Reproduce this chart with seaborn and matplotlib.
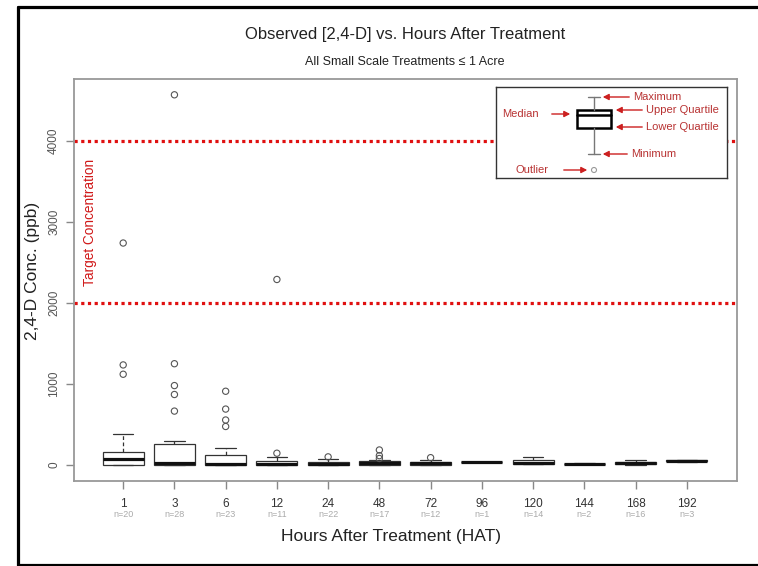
import matplotlib
matplotlib.use("Agg")
import matplotlib.pyplot as plt
import matplotlib.transforms as mtransforms
from matplotlib.lines import Line2D
from matplotlib.patches import Rectangle, Circle
import numpy as np
import pandas as pd
import seaborn as sns

# Hours after treatment (categories) and sample sizes
hours = ["1", "3", "6", "12", "24", "48", "72", "96", "120", "144", "168", "192"]
n_obs = [20, 28, 23, 11, 22, 17, 12, 1, 14, 2, 16, 3]

# Five-number summaries (ppb)
box_min = [0, 0, 0, 0, 0, 0, 0, 35, 10, 10, 5, 35]
box_q1 = [5, 5, 5, 3, 5, 5, 5, 35, 12, 12, 10, 45]
box_med = [70, 30, 15, 15, 15, 20, 20, 35, 30, 15, 25, 55]
box_q3 = [165, 255, 120, 55, 40, 50, 40, 35, 58, 18, 35, 60]
box_max = [380, 290, 215, 100, 70, 60, 60, 35, 100, 20, 58, 65]

# Outliers
out_hat = ["1", "1", "1", "3", "3", "3", "3", "3", "6", "6", "6", "6",
           "12", "12", "24", "48", "48", "48", "72"]
out_val = [2740, 1235, 1120, 4570, 1250, 980, 870, 665, 910, 690, 555, 475,
           2290, 145, 100, 185, 115, 80, 90]

target_levels = [2000, 4000]
y_ticks = [0, 1000, 2000, 3000, 4000]

sns.set_style("white")
plt.rcParams["font.family"] = ["Liberation Sans", "DejaVu Sans"]

# long table: five points per group give exactly the quartiles
rows = []
for i, h in enumerate(hours):
    for v in (box_min[i], box_q1[i], box_med[i], box_q3[i], box_max[i]):
        rows.append({"hat": h, "conc": v})
box_df = pd.DataFrame(rows)
out_df = pd.DataFrame({"hat": out_hat, "conc": out_val})

W, H = 758, 566
fig = plt.figure(figsize=(W / 100, H / 100), dpi=100)
ax = fig.add_axes([74 / W, 1 - 481 / H, (737 - 74) / W, (481 - 79) / H])

sns.boxplot(
    data=box_df, x="hat", y="conc", order=hours, ax=ax,
    whis=(0, 100), width=0.8, showfliers=False,
    color="white", saturation=1, linecolor="#333333", linewidth=0.9,
    medianprops={"color": "#111111", "linewidth": 2.3},
    whiskerprops={"linestyle": (0, (3, 2)), "color": "#333333"},
    capprops={"color": "#333333"},
)
sns.stripplot(
    data=out_df, x="hat", y="conc", order=hours, ax=ax,
    jitter=False, marker="o", size=4.5, color="white",
    edgecolor="#555555", linewidth=0.8,
)
for coll in ax.collections:
    coll.set_facecolor("none")

for lvl in target_levels:
    ax.axhline(lvl, color="#e01010", lw=2.3, ls=(0, (1, 1.1)), zorder=1)

trans = mtransforms.blended_transform_factory(ax.transAxes, ax.transData)
ax.text(0.024, 3000, "Target Concentration", transform=trans, rotation=90,
        ha="center", va="center", color="#d01818", fontsize=9.8)

ax.set_xlim(-0.96, 11.98)
ax.set_ylim(-198, 4765)
ax.set_yticks(y_ticks)
ax.set_yticklabels([str(t) for t in y_ticks], rotation=90, va="center")
ax.set_xticks(range(len(hours)))
ax.set_xticklabels(hours)
ax.tick_params(axis="y", length=6, width=1, color="#888888", labelsize=8.5,
               labelcolor="#555555", pad=4, left=True)
ax.tick_params(axis="x", length=6, width=1, color="#888888", labelsize=8.5,
               labelcolor="#333333", pad=6, bottom=True)
for sp in ax.spines.values():
    sp.set_color("#999999")
    sp.set_linewidth(1.3)

xtrans = mtransforms.blended_transform_factory(ax.transData, ax.transAxes)
for i, n in enumerate(n_obs):
    ax.text(i, -0.083, f"n={n}", transform=xtrans, ha="center", va="center",
            fontsize=6.5, color="#aaaaaa")

ax.set_xlabel("")
ax.set_ylabel("2,4-D Conc. (ppb)", fontsize=12.5, color="#222222")
ax.yaxis.set_label_coords(-0.051, 0.522)

fig.text(405 / W, 1 - 35 / H, "Observed [2,4-D] vs. Hours After Treatment",
         ha="center", va="center", fontsize=12, color="#222222")
fig.text(405 / W, 1 - 62 / H, "All Small Scale Treatments \u2264 1 Acre",
         ha="center", va="center", fontsize=9, color="#222222")
fig.text(391 / W, 1 - 537 / H, "Hours After Treatment (HAT)",
         ha="center", va="center", fontsize=12.5, color="#222222")

# outer black frame (left, top, bottom)
frame = dict(color="black", lw=2.3, transform=fig.transFigure)
fig.add_artist(Line2D([18 / W, 18 / W], [1 - 7 / H, 1 - 565 / H], **frame))
fig.add_artist(Line2D([18 / W, 1], [1 - 7 / H, 1 - 7 / H], **frame))
fig.add_artist(Line2D([18 / W, 1], [1 - 565 / H, 1 - 565 / H], **frame))

# boxplot key in the upper right
lx0, lx1, ly0, ly1 = 496, 727, 87, 178
leg = fig.add_axes([lx0 / W, 1 - ly1 / H, (lx1 - lx0) / W, (ly1 - ly0) / H])
leg.set_xlim(lx0, lx1)
leg.set_ylim(ly1, ly0)
leg.set_xticks([])
leg.set_yticks([])
for sp in leg.spines.values():
    sp.set_color("#333333")
    sp.set_linewidth(1.0)
leg.plot([594, 594], [97, 110], color="#777777", lw=1)
leg.plot([594, 594], [128, 154], color="#777777", lw=1)
leg.plot([588, 600], [97, 97], color="#777777", lw=1)
leg.plot([588, 600], [154, 154], color="#777777", lw=1)
leg.add_patch(Rectangle((577, 110), 34, 18, fill=False, ec="black", lw=1.8))
leg.plot([577, 611], [114.5, 114.5], color="black", lw=1.8)
leg.add_patch(Circle((594, 170), 2.5, fill=False, ec="#999999", lw=0.8))

key_col = "#b83232"
arrow = dict(arrowstyle="-|>,head_length=0.35,head_width=0.18", color="#cc2020", lw=1)
labels = [
    ("Maximum", (632, 97), (600, 97)),
    ("Upper Quartile", (645, 110), (613, 110)),
    ("Lower Quartile", (645, 127), (613, 127)),
    ("Minimum", (630, 154), (600, 154)),
]
for txt, start, end in labels:
    leg.annotate("", xy=end, xytext=start, arrowprops=arrow)
    leg.text(start[0] + 1, start[1], txt, ha="left", va="center",
             fontsize=8, color=key_col)
leg.annotate("", xy=(573, 114), xytext=(549, 114), arrowprops=arrow)
leg.text(502, 114, "Median", ha="left", va="center", fontsize=8, color=key_col)
leg.annotate("", xy=(590, 170), xytext=(561, 170), arrowprops=arrow)
leg.text(516, 170, "Outlier", ha="left", va="center", fontsize=8, color=key_col)

fig.savefig("out.png", dpi=100)
